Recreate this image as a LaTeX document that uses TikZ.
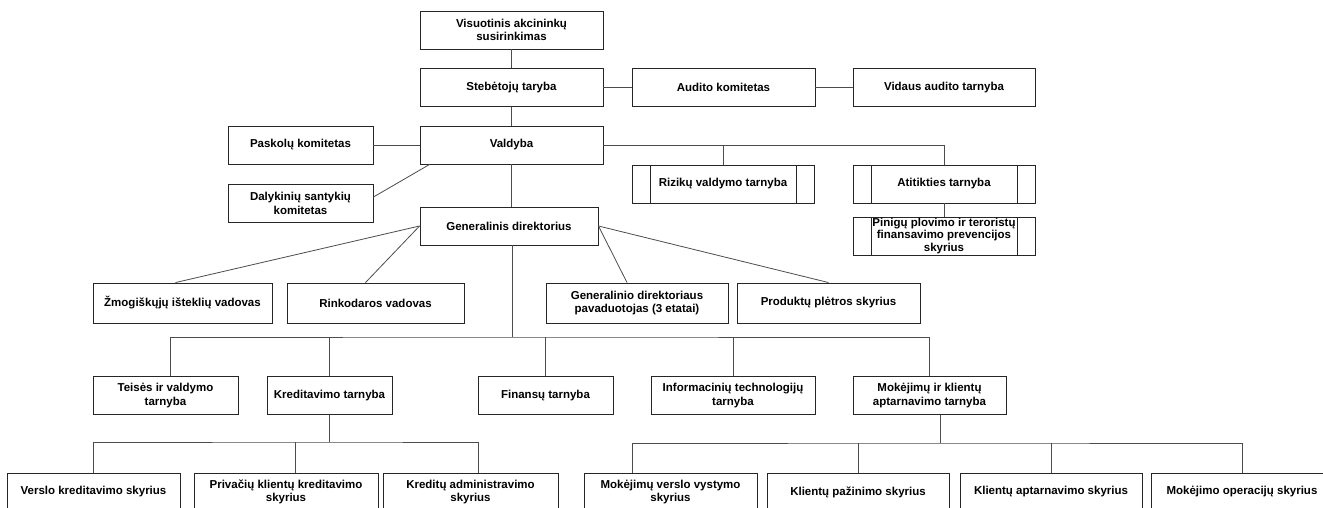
\documentclass[tikz,border=0pt]{standalone}
\usepackage{fontspec}
\setmainfont{Liberation Sans}
\usetikzlibrary{positioning}

\tikzset{
  unit/.style={draw=black!85, line width=0.9pt, fill=white, align=center,
    minimum height=38pt, inner sep=1pt,
    font=\fontsize{11.5}{13.5}\selectfont\bfseries},
  proc/.style={unit, path picture={
    \draw[line width=0.9pt] ([xshift=18pt]path picture bounding box.north west)
      -- ([xshift=18pt]path picture bounding box.south west);
    \draw[line width=0.9pt] ([xshift=-18pt]path picture bounding box.north east)
      -- ([xshift=-18pt]path picture bounding box.south east);}},
  link/.style={draw=black!70, line width=0.8pt}
}

\begin{document}
\begin{tikzpicture}[x=1pt,y=-1pt,node distance=57.5pt,on grid]
   \useasboundingbox (0,0) rectangle (1323,508);
   \clip (0,0) rectangle (1323,508);

   \node[unit,minimum width=183pt] (vas) at (511.5,30) {Visuotinis akcininkų\\susirinkimas};
   \node[unit,minimum width=183pt] (steb) [below=of vas] {Stebėtojų taryba};
   \node[unit,minimum width=183pt] (audit) [right=212pt of steb] {Audito komitetas};
   \node[unit,minimum width=182pt] (vidaus) [right=220.5pt of audit] {Vidaus audito tarnyba};
   \node[unit,minimum width=183pt] (valdyba) at (511.5,145) {Valdyba};
   \node[unit,minimum width=145pt] (paskolu) at (300.5,145) {Paskolų komitetas};
   \node[unit,minimum width=145pt] (dalyk) at (300.5,203.5) {Dalykinių santykių\\komitetas};
   \node[proc,minimum width=182pt] (rizik) at (723,184) {Rizikų valdymo tarnyba};
   \node[proc,minimum width=182pt] (atit) at (944,184) {Atitikties tarnyba};
   \node[proc,minimum width=182pt,inner ysep=0pt,
     font=\fontsize{11.5}{12.5}\selectfont\bfseries] (pinig) at (944,236)
     {Pinigų plovimo ir teroristų\\finansavimo prevencijos\\skyrius};
   \node[unit,minimum width=178pt] (gen) at (509,226) {Generalinis direktorius};

   \node[unit,minimum width=179pt,minimum height=40pt] (zmog) at (182.5,303) {Žmogiškųjų išteklių vadovas};
   \node[unit,minimum width=177pt,minimum height=40pt] (rink) at (375.5,303) {Rinkodaros vadovas};
   \node[unit,minimum width=182pt,minimum height=40pt] (pavad) at (637,303) {Generalinio direktoriaus\\pavaduotojas (3 etatai)};
   \node[unit,minimum width=183pt,minimum height=40pt] (prod) at (828.5,303) {Produktų plėtros skyrius};

   \node[unit,minimum width=145pt] (teis) at (165.5,395.5) {Teisės ir valdymo\\tarnyba};
   \node[unit,minimum width=125pt] (kred) at (329.5,395.5) {Kreditavimo tarnyba};
   \node[unit,minimum width=135pt] (fin) at (545.5,395.5) {Finansų tarnyba};
   \node[unit,minimum width=164pt] (it) at (733,395.5) {Informacinių technologijų\\tarnyba};
   \node[unit,minimum width=153pt] (mok) at (929.5,395.5) {Mokėjimų ir klientų\\aptarnavimo tarnyba};

   \node[unit,minimum width=173pt] (versl) at (93.5,492) {Verslo kreditavimo skyrius};
   \node[unit,minimum width=184pt] (priv) at (286,492) {Privačių klientų kreditavimo\\skyrius};
   \node[unit,minimum width=175pt] (kradm) at (470.5,492) {Kreditų administravimo\\skyrius};
   \node[unit,minimum width=173pt] (mokv) at (670.5,492) {Mokėjimų verslo vystymo\\skyrius};
   \node[unit,minimum width=182pt] (klpaz) at (858,492) {Klientų pažinimo skyrius};
   \node[unit,minimum width=182pt] (klapt) at (1051,492) {Klientų aptarnavimo skyrius};
   \node[unit,minimum width=182pt] (mokop) at (1242,492) {Mokėjimo operacijų skyrius};

   \draw[link] (vas) -- (steb);
   \draw[link] (steb) -- (audit);
   \draw[link] (audit) -- (vidaus);
   \draw[link] (steb) -- (valdyba);
   \draw[link] (paskolu) -- (valdyba);
   \draw[link] ([yshift=6.5pt]dalyk.east) -- ([xshift=10pt]valdyba.south west);
   \draw[link] (valdyba.east) -| (atit.north);
   \draw[link] (rizik.north) -- (rizik.north |- valdyba.east);
   \draw[link] (atit) -- (pinig);
   \draw[link] (valdyba.south) -- (valdyba.south |- gen.north);

   \draw[link] (gen.west) -- ([xshift=-7pt]zmog.north);
   \draw[link] (gen.west) -- ([xshift=-10pt]rink.north);
   \draw[link] (gen.east) -- ([xshift=-10pt]pavad.north);
   \draw[link] (gen.east) -- (prod.north);

   \coordinate (bus) at (512,337);
   \draw[link] (gen.south -| bus) -- (bus);
   \draw[link] ([xshift=5pt]teis.north) |- (bus) -| (mok.north);
   \foreach \u in {kred,fin,it}
     \draw[link] (\u.north) -- (\u.north |- bus);

   \coordinate (kbus) at (329,442);
   \draw[link] (kred.south) -- (kred.south |- kbus);
   \draw[link] (versl.north) |- (kbus) -| ([xshift=8pt]kradm.north);
   \draw[link] ([xshift=9pt]priv.north) -- ([xshift=9pt]priv.north |- kbus);

   \coordinate (mbus) at (940,443);
   \draw[link] (mok.south -| mbus) -- (mbus);
   \draw[link] ([xshift=-38pt]mokv.north) |- (mbus) -| (mokop.north);
   \foreach \u in {klpaz,klapt}
     \draw[link] (\u.north) -- (\u.north |- mbus);
\end{tikzpicture}
\end{document}
